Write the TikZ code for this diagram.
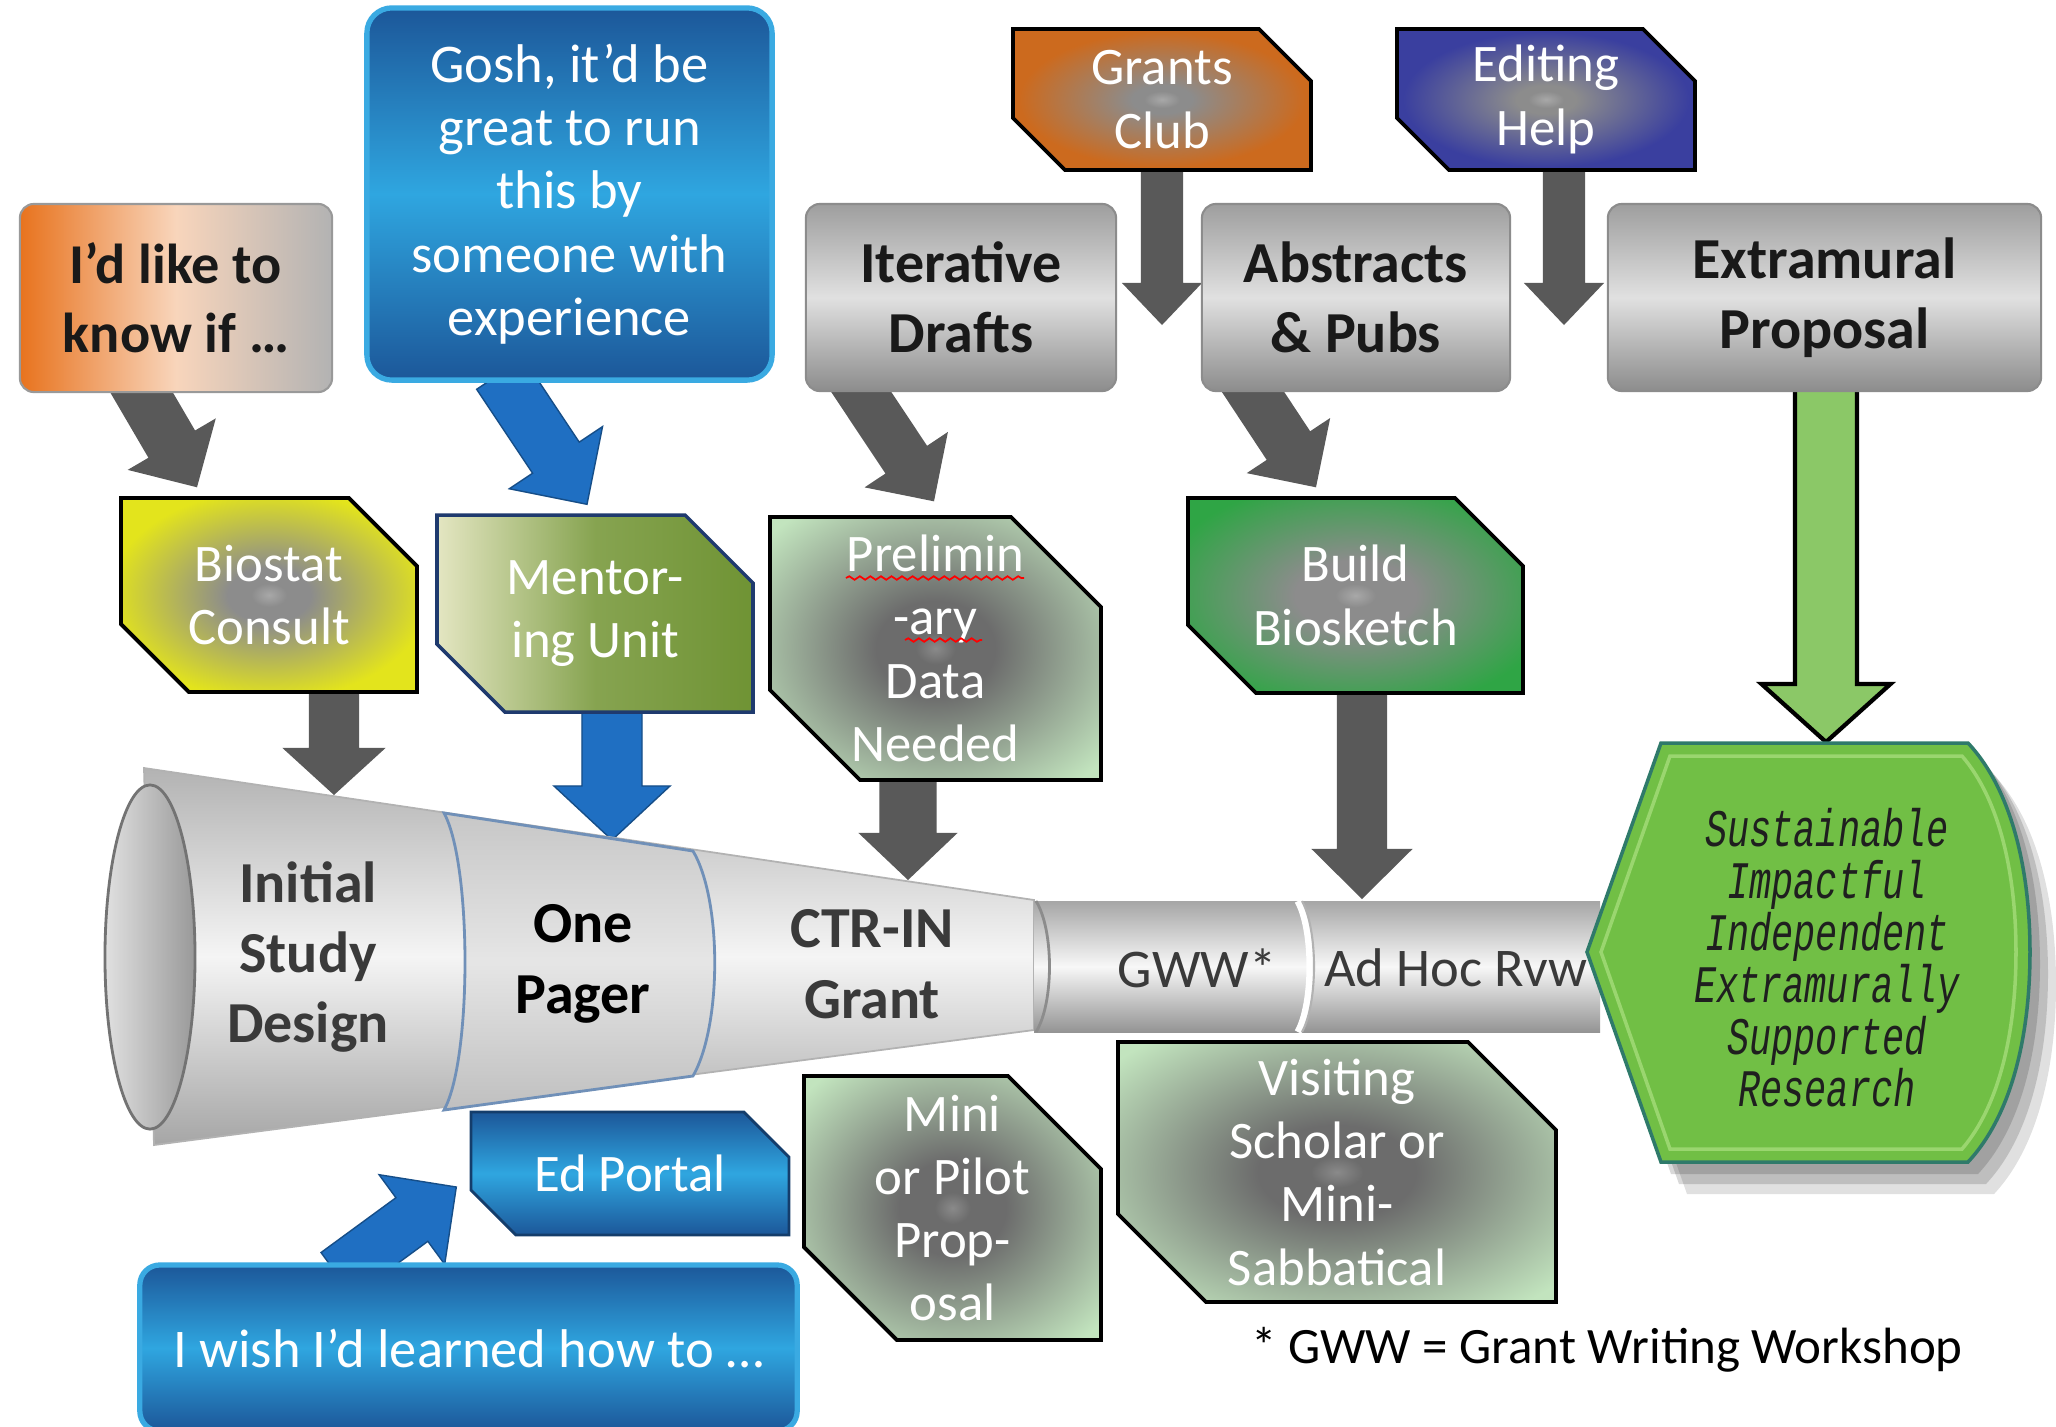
\documentclass[tikz,border=0pt]{standalone}
\usepackage{fontspec}
\setmainfont{Carlito}
\newfontfamily\finfont[FakeStretch=0.70]{Liberation Mono}
\usetikzlibrary{calc,decorations.pathmorphing}
\pgfdeclarelayer{bg}
\pgfdeclarelayer{behind}
\pgfsetlayers{bg,behind,main}

\definecolor{arrgrey}{HTML}{595959}
\definecolor{arrblue}{HTML}{1F6FC2}
\definecolor{arrgreen}{HTML}{8BC867}
\definecolor{bluedark}{HTML}{1C5799}
\definecolor{bluemid}{HTML}{2FA6E0}
\definecolor{bluerim}{HTML}{3AAAE2}
\definecolor{orangeA}{HTML}{E8731E}
\definecolor{grantsor}{HTML}{CC6A1E}
\definecolor{editblue}{HTML}{3A3F9F}
\definecolor{biostatY}{HTML}{E3E41C}
\definecolor{buildG}{HTML}{2FA545}
\definecolor{paleG}{HTML}{C2E4BE}
\definecolor{olive}{HTML}{6F9334}
\definecolor{oliveL}{HTML}{E4E6C2}
\definecolor{navy}{HTML}{1F3A6E}
\definecolor{finalG}{HTML}{71BF45}
\definecolor{finalEdge}{HTML}{2F7A6A}
\definecolor{finalInner}{HTML}{9AD66F}
\definecolor{txtgrey}{HTML}{3A3A3A}
\definecolor{onepageredge}{HTML}{7090B8}
\definecolor{hexgrey}{HTML}{8C8C8C}
\definecolor{hexgreyL}{HTML}{A8A8A8}
\definecolor{palegrey}{HTML}{6C6C6C}
\definecolor{palegreyL}{HTML}{8A8A8A}

\pgfdeclareradialshading{biostatsh}{\pgfpointorigin}{color(0bp)=(hexgreyL); color(3bp)=(hexgrey); color(7bp)=(hexgrey); color(27bp)=(biostatY); color(50bp)=(biostatY)}
\pgfdeclareradialshading{grantssh}{\pgfpointorigin}{color(0bp)=(hexgreyL); color(3bp)=(hexgrey); color(5bp)=(hexgrey); color(24bp)=(grantsor); color(50bp)=(grantsor)}
\pgfdeclareradialshading{editsh}{\pgfpointorigin}{color(0bp)=(hexgreyL); color(3bp)=(hexgrey); color(5bp)=(hexgrey); color(24bp)=(editblue); color(50bp)=(editblue)}
\pgfdeclareradialshading{buildsh}{\pgfpointorigin}{color(0bp)=(hexgreyL); color(3bp)=(hexgrey); color(9bp)=(hexgrey); color(30bp)=(buildG); color(50bp)=(buildG)}
\pgfdeclareradialshading{palesh}{\pgfpointorigin}{color(0bp)=(palegreyL); color(3bp)=(palegrey); color(9bp)=(palegrey); color(33bp)=(paleG); color(50bp)=(paleG)}

\tikzset{
  boxtext/.style={align=center, inner sep=0pt},
  greybox/.style={boxtext, rounded corners=0.14cm, draw=black!45, line width=0.6pt,
    top color=black!38, bottom color=black!45, middle color=black!12, text=black!90,
    font=\fontsize{16.5}{20}\selectfont\bfseries},
  likebox/.style={boxtext, rounded corners=0.14cm, draw=black!40, line width=0.6pt,
    left color=orangeA, right color=black!30, middle color=orangeA!30!white, text=black!90,
    font=\fontsize{16}{19.5}\selectfont\bfseries},
  bluebox/.style={boxtext, rounded corners=0.25cm, draw=bluerim, line width=1.5pt,
    top color=bluedark, bottom color=bluedark, middle color=bluemid, text=white,
    font=\fontsize{15.5}{18}\selectfont},
  hextext/.style={boxtext, text=white, font=\fontsize{15}{18}\selectfont},
  hexline/.style={draw=black, line width=1.1pt, shade},
  biostathex/.style={hexline, shading=biostatsh},
  grantshex/.style={hexline, shading=grantssh},
  edithex/.style={hexline, shading=editsh},
  buildhex/.style={hexline, shading=buildsh},
  palehex/.style={hexline, shading=palesh},
  mentorhex/.style={draw=navy, line width=1pt, left color=oliveL, right color=olive, middle color=olive!80!oliveL},
  portalhex/.style={draw=bluedark!70!black, line width=0.8pt, top color=bluedark, bottom color=bluedark, middle color=bluemid},
  funtext/.style={boxtext, font=\fontsize{16.5}{20}\selectfont\bfseries},
  tubetext/.style={boxtext, text=txtgrey, font=\fontsize{15.5}{18}\selectfont},
  greyarrow/.style={fill=arrgrey},
  bluearrow/.style={fill=arrblue, draw=arrblue!70!black, line width=0.4pt},
  greenarrow/.style={fill=arrgreen, draw=black, line width=1.2pt},
  conefill/.style={top color=black!30, bottom color=black!35, middle color=white!96!black, draw=black!30, line width=0.5pt},
  onepagerfill/.style={top color=black!22, bottom color=black!25, middle color=black!10, draw=onepageredge, line width=0.8pt},
  finalshape/.style={insert path={(1661,743) -- (1968,743) .. controls (2012,790) and (2030,870) .. (2030,952) .. controls (2030,1035) and (2012,1115) .. (1968,1162) -- (1661,1162) -- (1587,952) -- cycle}},
  squiggle/.style={red, line width=0.5pt, decorate, decoration={snake, amplitude=0.5pt, segment length=3pt}}
}

\newcommand\hexnode[8]{%
  \path[#1] (#3,#4) -- ({#5-#7},#4) -- (#5,{#4+#7}) -- (#5,#6) -- ({#3+#7},#6) -- (#3,{#6-#7}) -- cycle;
  \node[hextext, minimum width={(#5-#3)*0.01cm}, minimum height={(#6-#4)*0.01cm}] (#2) at ({(#3+#5)/2},{(#4+#6)/2}) {#8};}

\newcommand\blockarrow[6]{%
  \coordinate (bahead) at ($(#3)!#6!(#2)$);
  \path[#1] ($(#2)!#4!90:(#3)$) -- ($(bahead)!#4!-90:(#2)$) -- ($(bahead)!#5!-90:(#2)$) -- (#3)
    -- ($(bahead)!#5!90:(#2)$) -- ($(bahead)!#4!90:(#2)$) -- ($(#2)!#4!-90:(#3)$) -- cycle;}

\begin{document}
\begin{tikzpicture}[x=0.01cm,y=-0.01cm]
\useasboundingbox (0,0) rectangle (2056,1426);
\begin{pgfonlayer}{bg}
  \fill[white] (0,0) rectangle (2056,1426);
\end{pgfonlayer}

% ---------- funnel ----------
\path[conefill] (144,768) -- (1034,900) -- (1034,1030) -- (154,1145) -- cycle;
\path[top color=black!35, bottom color=black!42, middle color=black!3] (1034,901) rectangle (1600,1032);
\draw[black!45, line width=0.8pt] (1036,901) .. controls (1054,930) and (1054,1003) .. (1036,1032);
\draw[white, line width=2pt] (1298,901) .. controls (1314,930) and (1314,1003) .. (1298,1032);
\draw[black!30, line width=0.6pt] (1302,901) .. controls (1318,930) and (1318,1003) .. (1302,1032);
\path[onepagerfill] (444,813) -- (693,851) .. controls (722,900) and (722,1025) .. (693,1076) -- (444,1110) .. controls (472,1060) and (472,864) .. (444,813) -- cycle;
\path[left color=black!12, right color=black!40, draw=black!55, line width=0.8pt] (150,957) ellipse [x radius=0.45cm, y radius=1.72cm];

\node[funtext, text=txtgrey] (initial) at (308,957) {Initial\\Study\\Design};
\node[funtext, text=black] (onepager) at (583,964) {One\\Pager};
\node[funtext, text=txtgrey] (ctrin) at (872,964) {CTR-IN\\Grant};
\node[tubetext] (gww) at (1197,968) {GWW*};
\node[tubetext] (adhoc) at (1456,968) {Ad Hoc Rvw};

% ---------- rounded boxes ----------
\node[likebox, minimum width=3.12cm, minimum height=1.88cm] (like) at (176,298) {I’d like to\\know if …};
\node[bluebox, minimum width=4.05cm, minimum height=3.72cm] (gosh) at (569.5,194) {Gosh, it’d be\\great to run\\this by\\someone with\\experience};
\node[greybox, minimum width=3.10cm, minimum height=1.87cm] (iter) at (961,297.5) {Iterative\\Drafts};
\node[greybox, minimum width=3.08cm, minimum height=1.87cm] (abs) at (1356,297.5) {Abstracts\\\& Pubs};
\node[greybox, minimum width=4.33cm, minimum height=1.87cm] (extra) at (1824.5,297.5) {Extramural\\Proposal};
\node[bluebox, rounded corners=0.2cm, minimum width=6.57cm, minimum height=1.66cm] (wish) at (468.5,1348) {I wish I’d learned how to …};

% ---------- chamfered boxes ----------
\hexnode{grantshex}{grants}{1013}{29}{1311}{170}{52}{Grants\\Club}
\hexnode{edithex}{edit}{1397}{29}{1695}{170}{52}{Editing\\Help}
\hexnode{biostathex}{biostat}{121}{498}{417}{692}{68}{Biostat\\Consult}
\hexnode{mentorhex}{mentor}{437}{515}{753}{712}{68}{Mentor-\\ing Unit}
\hexnode{palehex}{prelim}{770}{517}{1101}{780}{90}{Prelimin\\-ary\\Data\\Needed}
\hexnode{buildhex}{build}{1188}{498}{1523}{693}{68}{Build\\Biosketch}
\hexnode{palehex}{mini}{804}{1076}{1101}{1340}{93}{Mini\\or Pilot\\Prop-\\osal}
\hexnode{palehex}{visit}{1118}{1042}{1556}{1302}{88}{Visiting\\Scholar or\\Mini-\\Sabbatical}
\hexnode{portalhex}{portal}{471}{1112}{789}{1235}{45}{Ed Portal}

\draw[squiggle] (846,578) -- (1024,578);
\draw[squiggle] (905,640) -- (982,640);

% ---------- final goal ----------
\fill[black, opacity=0.15, shift={(0.10cm,-0.12cm)}, finalshape];
\fill[black, opacity=0.15, shift={(0.18cm,-0.22cm)}, finalshape];
\fill[black, opacity=0.12, shift={(0.26cm,-0.32cm)}, finalshape];
\path[fill=finalG, draw=finalEdge, line width=1pt, finalshape];
\draw[finalInner, line width=1pt] (1670,756) -- (1962,756) .. controls (2000,800) and (2016,875) .. (2016,952) .. controls (2016,1030) and (2000,1105) .. (1962,1149) -- (1670,1149) -- (1601,952) -- cycle;
\node[boxtext, text=black!88, font=\finfont\itshape\fontsize{15}{14.8}\selectfont] (final) at (1827,958) {Sustainable\\Impactful\\Independent\\Extramurally\\Supported\\Research};

\node[boxtext, font=\fontsize{14.5}{17}\selectfont] (gwwnote) at (1607,1350) {* GWW = Grant Writing Workshop};

% ---------- connector targets ----------
\coordinate (f1) at (334,795);
\coordinate (f2) at (612,840);
\coordinate (f3) at (908,880);
\coordinate (f4) at (1362,899);
\coordinate (gtip) at (1162,325);
\coordinate (etip) at (1564,325);
\coordinate (ftop) at (1826,742);

% ---------- block arrows ----------
\begin{pgfonlayer}{behind}
\coordinate (a1s) at ($(like.south)+(-44,-17)$);
\coordinate (a1t) at ($(biostat.north)+(-72,-10)$);
\blockarrow{greyarrow}{a1s}{a1t}{0.27cm}{0.51cm}{0.5cm}
\coordinate (a2s) at ($(gosh.south)+(-69.5,-9)$);
\coordinate (a2t) at ($(mentor.north)+(-8,-10)$);
\blockarrow{bluearrow}{a2s}{a2t}{0.28cm}{0.56cm}{0.56cm}
\coordinate (a3s) at ($(iter.south)+(-109,-14)$);
\coordinate (a3t) at ($(prelim.north)+(-1.5,-15)$);
\blockarrow{greyarrow}{a3s}{a3t}{0.25cm}{0.50cm}{0.5cm}
\coordinate (a4s) at ($(abs.south)+(-122,-29)$);
\coordinate (a4t) at ($(build.north)+(-39.5,-10)$);
\blockarrow{greyarrow}{a4s}{a4t}{0.26cm}{0.50cm}{0.5cm}
\coordinate (a5s) at ($(grants.south)+(0,-20)$);
\blockarrow{greyarrow}{a5s}{gtip}{0.21cm}{0.40cm}{0.42cm}
\coordinate (a6s) at ($(edit.south)+(18,-20)$);
\blockarrow{greyarrow}{a6s}{etip}{0.21cm}{0.40cm}{0.42cm}
\coordinate (a7s) at ($(biostat.south)+(65,-12)$);
\blockarrow{greyarrow}{a7s}{f1}{0.25cm}{0.515cm}{0.47cm}
\coordinate (a8s) at ($(mentor.south)+(17,-12)$);
\blockarrow{bluearrow}{a8s}{f2}{0.30cm}{0.58cm}{0.54cm}
\coordinate (a9s) at ($(prelim.south)+(-27.5,-14)$);
\blockarrow{greyarrow}{a9s}{f3}{0.285cm}{0.495cm}{0.47cm}
\coordinate (a10s) at ($(build.south)+(6.5,-13)$);
\blockarrow{greyarrow}{a10s}{f4}{0.25cm}{0.505cm}{0.5cm}
\coordinate (a11s) at ($(extra.south)+(1.5,-11)$);
\blockarrow{greenarrow}{a11s}{ftop}{0.31cm}{0.645cm}{0.58cm}
\coordinate (a12s) at ($(wish.north)+(-131.5,12)$);
\coordinate (a12t) at ($(portal.west)+(-14,13.5)$);
\blockarrow{bluearrow}{a12s}{a12t}{0.27cm}{0.555cm}{0.55cm}
\end{pgfonlayer}
\end{tikzpicture}
\end{document}
